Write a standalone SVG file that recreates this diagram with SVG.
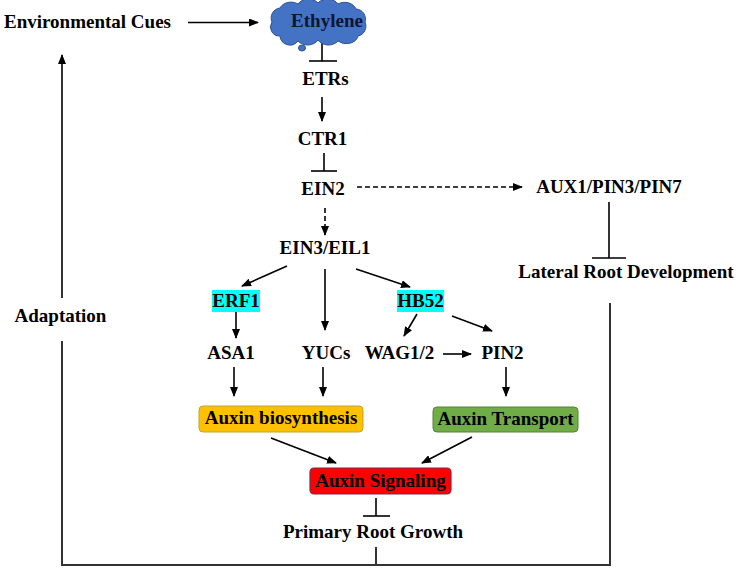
<svg xmlns="http://www.w3.org/2000/svg" width="739" height="569" viewBox="0 0 739 569">
<style>
text{font-family:"Liberation Serif","Times New Roman",serif;font-weight:bold;font-size:19px;fill:#000;text-anchor:middle}
.ln{stroke:#000;stroke-width:1.6;fill:none}
.fb{stroke:#333;stroke-width:2;fill:none}
.dash{stroke-dasharray:5,3}
</style>
<defs>
<marker id="ah" markerUnits="userSpaceOnUse" markerWidth="10" markerHeight="8" refX="9" refY="4" orient="auto">
<path d="M0,0 L10,4 L0,8 Z" fill="#000"/>
</marker>
</defs>
<rect width="739" height="569" fill="#fff"/>

<g id="connectors">
<line class="ln" x1="188" y1="22.5" x2="258" y2="22.5" marker-end="url(#ah)"/>
<line class="ln" x1="322" y1="43" x2="322" y2="61"/><line class="ln" x1="309" y1="61" x2="337" y2="61"/>
<line class="ln" x1="322" y1="97" x2="322" y2="121" marker-end="url(#ah)"/>
<line class="ln" x1="324" y1="153" x2="324" y2="171"/><line class="ln" x1="311" y1="171" x2="337" y2="171"/>
<line class="ln dash" x1="357" y1="187" x2="522" y2="187" marker-end="url(#ah)"/>
<line class="ln dash" x1="325" y1="208" x2="325" y2="235" marker-end="url(#ah)"/>
<line class="ln" x1="609" y1="202" x2="609" y2="258"/><line class="ln" x1="592" y1="258" x2="626" y2="258"/>
<line class="ln" x1="287" y1="266" x2="242" y2="286" marker-end="url(#ah)"/>
<line class="ln" x1="325" y1="269" x2="325" y2="330" marker-end="url(#ah)"/>
<line class="ln" x1="356" y1="269" x2="410" y2="287" marker-end="url(#ah)"/>
<line class="ln" x1="236" y1="312" x2="236" y2="338" marker-end="url(#ah)"/>
<line class="ln" x1="417" y1="314" x2="404" y2="336" marker-end="url(#ah)"/>
<line class="ln" x1="452" y1="316" x2="492" y2="331" marker-end="url(#ah)"/>
<line class="ln" x1="443" y1="354" x2="471" y2="354" marker-end="url(#ah)"/>
<line class="ln" x1="234" y1="367" x2="234" y2="396" marker-end="url(#ah)"/>
<line class="ln" x1="323" y1="367" x2="323" y2="396" marker-end="url(#ah)"/>
<line class="ln" x1="506" y1="367" x2="506" y2="396" marker-end="url(#ah)"/>
<line class="ln" x1="271" y1="438" x2="336" y2="463" marker-end="url(#ah)"/>
<line class="ln" x1="472" y1="437" x2="422" y2="463" marker-end="url(#ah)"/>
<line class="ln" x1="376" y1="498" x2="376" y2="516"/><line class="ln" x1="363" y1="516" x2="390" y2="516"/>
<polyline class="fb" points="376,547 376,565"/>
<polyline class="fb" points="62,341 62,565 610,565 610,303"/>
<line class="ln" x1="62" y1="298" x2="62" y2="55" marker-end="url(#ah)"/>
</g>

<g id="env"><text x="87.5" y="28">Environmental Cues</text></g>
<g id="ethylene">
<path d="M272,22 A10,10 0 0 1 280,8 A12,10 0 0 1 298,4 A12,10 0 0 1 318,3 A12,10 0 0 1 338,4 A12,10 0 0 1 356,9 A10,10 0 0 1 365,22 A10,10 0 0 1 358,36 A12,10 0 0 1 338,41 A12,10 0 0 1 318,40 A12,10 0 0 1 298,41 A10,10 0 0 1 280,36 A9,9 0 0 1 272,22 Z" fill="#4472C4" stroke="#2F528F" stroke-width="1"/>
<ellipse cx="302" cy="48" rx="3.5" ry="3" fill="#4472C4" stroke="#2F528F" stroke-width="1"/>
<text x="327" y="27" style="fill:#0d1530">Ethylene</text>
</g>
<g id="etrs"><text x="325.5" y="85">ETRs</text></g>
<g id="ctr1"><text x="322.5" y="145">CTR1</text></g>
<g id="ein2"><text x="323" y="195">EIN2</text></g>
<g id="aux1"><text x="609" y="193">AUX1/PIN3/PIN7</text></g>
<g id="ein3"><text x="325" y="254">EIN3/EIL1</text></g>
<g id="lateral"><text x="626" y="278">Lateral Root Development</text></g>
<g id="adaptation"><text x="60.5" y="322">Adaptation</text></g>
<g id="erf1"><rect x="212" y="290" width="48" height="22" fill="#00FFFF"/><text x="236" y="307">ERF1</text></g>
<g id="hb52"><rect x="397" y="290" width="47" height="22" fill="#00FFFF"/><text x="420.5" y="307">HB52</text></g>
<g id="asa1"><text x="231" y="359">ASA1</text></g>
<g id="yucs"><text x="326" y="359">YUCs</text></g>
<g id="wag"><text x="399.5" y="359">WAG1/2</text></g>
<g id="pin2"><text x="502.5" y="359">PIN2</text></g>
<g id="biosynthesis"><rect x="199" y="406" width="164" height="26" rx="4" fill="#FFC000" stroke="#C9A227" stroke-width="1"/><text x="281" y="424">Auxin biosynthesis</text></g>
<g id="transport"><rect x="433" y="407" width="145" height="25" rx="4" fill="#70AD47" stroke="#548235" stroke-width="1"/><text x="505.5" y="425">Auxin Transport</text></g>
<g id="signaling"><rect x="310" y="468" width="141" height="26" rx="4" fill="#FF0000" stroke="#7F2A4A" stroke-width="1.2"/><text x="380.5" y="487">Auxin Signaling</text></g>
<g id="primary"><text x="373" y="538">Primary Root Growth</text></g>
</svg>
